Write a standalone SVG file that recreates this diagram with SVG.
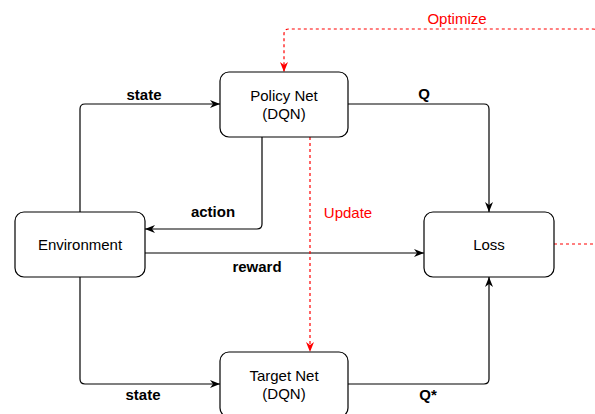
<svg xmlns="http://www.w3.org/2000/svg" width="595" height="414" viewBox="0 0 595 414">
  <style>
    .box { fill: #ffffff; stroke: #000000; stroke-width: 1.2; }
    .txt { font-family: "Liberation Sans", Arial, sans-serif; font-size: 15px; fill: #000000; text-anchor: middle; }
    .lbl { font-family: "Liberation Sans", Arial, sans-serif; font-size: 15px; font-weight: bold; fill: #000000; text-anchor: middle; }
    .rlbl { font-family: "Liberation Sans", Arial, sans-serif; font-size: 15px; fill: #ff0000; text-anchor: middle; }
    .edge { fill: none; stroke: #000000; stroke-width: 1.2; }
    .redge { fill: none; stroke: #ff0000; stroke-width: 1.2; stroke-dasharray: 3 3; }
  </style>
  <defs>
    <marker id="arr" viewBox="0 0 10 8" refX="10" refY="4" markerWidth="10" markerHeight="8" markerUnits="userSpaceOnUse" orient="auto">
      <path d="M0,0 L10,4 L0,8 L3,4 Z" fill="#000000"/>
    </marker>
    <marker id="rarr" viewBox="0 0 10 8" refX="10" refY="4" markerWidth="10" markerHeight="8" markerUnits="userSpaceOnUse" orient="auto">
      <path d="M0,0 L10,4 L0,8 L3,4 Z" fill="#ff0000"/>
    </marker>
  </defs>

  <g id="connectors">
    <path class="edge" d="M80,212 V109 Q80,104 85,104 H220" marker-end="url(#arr)"/>
    <path class="edge" d="M348,104 H484 Q489,104 489,109 V212" marker-end="url(#arr)"/>
    <path class="edge" d="M262,137 V224 Q262,229 257,229 H145" marker-end="url(#arr)"/>
    <path class="edge" d="M145,253 H424" marker-end="url(#arr)"/>
    <path class="edge" d="M80,277 V379 Q80,384 85,384 H220" marker-end="url(#arr)"/>
    <path class="edge" d="M348,384 H484 Q489,384 489,379 V277" marker-end="url(#arr)"/>
    <path class="redge" d="M310,137 V352" marker-end="url(#rarr)"/>
    <path class="redge" d="M554,244 H593 Q598,244 598,239 V34 Q598,29 593,29 H289 Q284,29 284,34 V72" marker-end="url(#rarr)"/>
    <text class="lbl" x="144" y="100">state</text>
    <text class="lbl" x="424" y="99">Q</text>
    <text class="lbl" x="213" y="217">action</text>
    <text class="lbl" x="257" y="272">reward</text>
    <text class="lbl" x="143" y="400">state</text>
    <text class="lbl" x="428" y="400">Q*</text>
    <text class="rlbl" x="348" y="218">Update</text>
    <text class="rlbl" x="457" y="24">Optimize</text>
  </g>

  <g id="policy-net">
    <rect class="box" x="220" y="72" width="128" height="65" rx="9"/>
    <text class="txt" x="284" y="101">Policy Net</text>
    <text class="txt" x="284" y="119">(DQN)</text>
  </g>
  <g id="environment">
    <rect class="box" x="15" y="212" width="130" height="65" rx="9"/>
    <text class="txt" x="80" y="250">Environment</text>
  </g>
  <g id="loss">
    <rect class="box" x="424" y="212" width="130" height="65" rx="9"/>
    <text class="txt" x="489" y="250">Loss</text>
  </g>
  <g id="target-net">
    <rect class="box" x="220" y="352" width="128" height="65" rx="9"/>
    <text class="txt" x="284" y="381">Target Net</text>
    <text class="txt" x="284" y="399">(DQN)</text>
  </g>
</svg>
